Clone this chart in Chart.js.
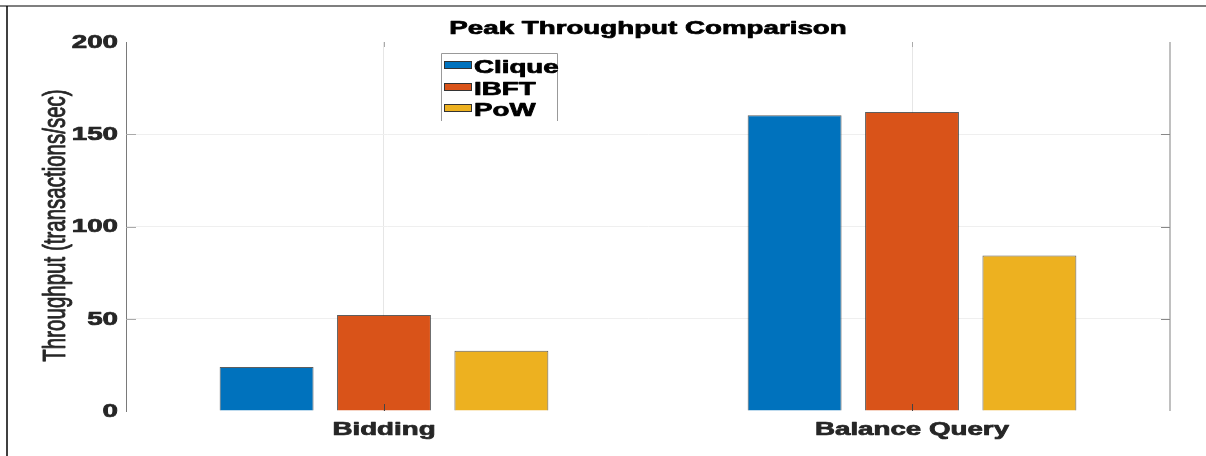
<!DOCTYPE html>
<html>
<head>
<meta charset="utf-8">
<script src="https://cdn.jsdelivr.net/npm/chart.js@4/dist/chart.umd.min.js"></script>
<style>
  html, body { margin: 0; padding: 0; background: #fff; }
  #wrap { width: 1206px; height: 456px; position: relative; }
</style>
</head>
<body>
<div id="wrap"><canvas id="chart"></canvas></div>
<script>
// data
var categories = ["Bidding", "Balance Query"];
var seriesNames = ["Clique", "IBFT", "PoW"];
var cliqueValues = [23.8, 160.3];
var ibftValues = [52, 162];
var powValues = [32.7, 84.3];
var yTicks = [0, 50, 100, 150, 200];
var titleText = "Peak Throughput Comparison";
var yTitleText = "Throughput (transactions/sec)";

var colors = ["#0072BD", "#D95319", "#EDB120"];
var FONT = "'Liberation Sans', Arial, Helvetica, sans-serif";
var SX = 1.54; // the picture is stretched sideways

function toPoints(values) {
    return values.map(function (v, i) { return { x: i + 1, y: v }; });
}

function stretchText(ctx, text, x, y, align, baseline, font, color, rotate, heavy) {
    ctx.save();
    ctx.translate(x, y);
    ctx.scale(SX, 1);
    if (rotate) ctx.rotate(-Math.PI / 2);
    ctx.font = font;
    ctx.textAlign = align;
    ctx.textBaseline = baseline;
    ctx.fillStyle = color;
    ctx.fillText(text, 0, 0);
    if (heavy) {
        // a little extra weight, the reference text is heavier
        ctx.strokeStyle = color;
        ctx.lineWidth = heavy;
        ctx.lineJoin = "round";
        ctx.strokeText(text, 0, 0);
    }
    ctx.restore();
}

var decorPlugin = {
    id: "decor",
    afterDraw: function (chart) {
        var ctx = chart.ctx;
        var a = chart.chartArea;
        var xs = chart.scales.x, ys = chart.scales.y;

        // figure frame (top + left)
        ctx.save();
        ctx.strokeStyle = "#555";
        ctx.lineWidth = 1.5;
        ctx.beginPath();
        ctx.moveTo(0, 6); ctx.lineTo(1206, 6);
        ctx.stroke();
        ctx.strokeStyle = "#000";
        ctx.beginPath();
        ctx.moveTo(7, 6); ctx.lineTo(7, 456);
        ctx.stroke();

        // right axis line
        ctx.strokeStyle = "#c0c0c0";
        ctx.lineWidth = 2;
        ctx.beginPath();
        ctx.moveTo(a.right, a.top); ctx.lineTo(a.right, a.bottom);
        ctx.stroke();

        // small inward ticks
        ctx.lineWidth = 1;
        yTicks.forEach(function (t) {
            if (t === 0 || t === 200) return;
            var py = Math.round(ys.getPixelForValue(t)) + 0.5;
            ctx.strokeStyle = "#aaa";
            ctx.beginPath(); ctx.moveTo(a.left, py); ctx.lineTo(a.left + 10, py); ctx.stroke();
            ctx.strokeStyle = "#888";
            ctx.beginPath(); ctx.moveTo(a.right - 9, py); ctx.lineTo(a.right, py); ctx.stroke();
        });
        categories.forEach(function (c, i) {
            var px = Math.round(xs.getPixelForValue(i + 1)) + 0.5;
            ctx.strokeStyle = "#444";
            ctx.beginPath(); ctx.moveTo(px, a.bottom - 7); ctx.lineTo(px, a.bottom); ctx.stroke();
            ctx.strokeStyle = "#aaa";
            ctx.beginPath(); ctx.moveTo(px, a.top); ctx.lineTo(px, a.top + 5); ctx.stroke();
        });
        ctx.restore();

        // tick labels
        yTicks.forEach(function (t) {
            stretchText(ctx, String(t), 118, ys.getPixelForValue(t) + 1, "right", "middle",
                "bold 18px " + FONT, "#262626", false, 0.7);
        });
        categories.forEach(function (c, i) {
            stretchText(ctx, c, xs.getPixelForValue(i + 1), 435, "center", "alphabetic",
                "bold 18px " + FONT, "#262626", false, 0.7);
        });

        // titles
        stretchText(ctx, titleText, (a.left + a.right) / 2, 34, "center", "alphabetic",
            "bold 18px " + FONT, "#000", false, 0.7);
        stretchText(ctx, yTitleText, 65, 225.5, "center", "alphabetic",
            "20.5px " + FONT, "#262626", true, 0.6);

        // legend box (open at the bottom, as in the picture)
        ctx.save();
        ctx.strokeStyle = "#999";
        ctx.lineWidth = 1;
        ctx.beginPath();
        ctx.moveTo(441.5, 121); ctx.lineTo(441.5, 53.5); ctx.lineTo(557.5, 53.5); ctx.lineTo(557.5, 121);
        ctx.stroke();
        var baselines = [73, 95, 116];
        chart.data.datasets.forEach(function (ds, i) {
            var b = baselines[i];
            ctx.fillStyle = ds.backgroundColor;
            ctx.fillRect(444, b - 12, 28, 8);
            ctx.strokeStyle = "#333";
            ctx.lineWidth = 1;
            ctx.strokeRect(444.5, b - 11.5, 27, 7);
            stretchText(ctx, ds.label, 474, b, "left", "alphabetic", "bold 18px " + FONT, "#000", false, 0.7);
        });
        ctx.restore();
    }
};

var datasets = [cliqueValues, ibftValues, powValues].map(function (vals, i) {
    return {
        label: seriesNames[i],
        data: toPoints(vals),
        backgroundColor: colors[i],
        borderColor: "rgba(40,40,40,0.75)",
        borderWidth: 1,
        categoryPercentage: 0.667,
        barPercentage: 0.8
    };
});

new Chart(document.getElementById("chart"), {
    type: "bar",
    data: { datasets: datasets },
    options: {
        responsive: true,
        maintainAspectRatio: false,
        devicePixelRatio: 1,
        animation: false,
        layout: { padding: { left: 126, right: 36, top: 42, bottom: 45 } },
        plugins: {
            legend: { display: false },
            title: { display: false },
            tooltip: { enabled: false }
        },
        scales: {
            x: {
                type: "linear",
                min: 0.5114,
                max: 2.4886,
                offset: false,
                afterBuildTicks: function (scale) {
                    scale.ticks = categories.map(function (c, i) { return { value: i + 1 }; });
                },
                afterFit: function (scale) { scale.height = 0; },
                ticks: { display: false },
                grid: { color: "#e6e6e6", drawTicks: false, offset: false },
                border: { display: false }
            },
            y: {
                min: 0,
                max: 200,
                afterBuildTicks: function (scale) {
                    scale.ticks = yTicks.map(function (t) { return { value: t }; });
                },
                afterFit: function (scale) { scale.width = 0; },
                ticks: { display: false },
                grid: {
                    drawTicks: false,
                    color: function (c) {
                        return (c.tick && (c.tick.value === 0 || c.tick.value === 200)) ? "rgba(0,0,0,0)" : "#efefef";
                    }
                },
                border: { display: true, color: "#7a7a7a", width: 1 }
            }
        }
    },
    plugins: [decorPlugin]
});
</script>
</body>
</html>
